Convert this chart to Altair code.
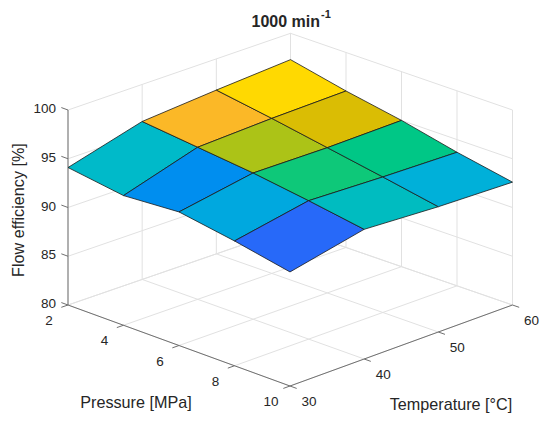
import altair as alt
import pandas as pd

# ---------------- data ----------------
pressure = [2, 4, 6, 8, 10]            # MPa
temperature = [30, 40, 50, 60]         # °C
# flow efficiency [%], rows = pressure, columns = temperature
efficiency = [
    [94.1, 96.2, 96.8, 97.3],
    [93.3, 95.6, 95.9, 96.05],
    [93.7, 95.0, 94.9, 95.0],
    [92.8, 94.2, 93.9, 93.7],
    [91.7, 93.3, 92.85, 92.6],
]
z_ticks = [80, 85, 90, 95, 100]
title_main = "1000 min"
title_sup = "-1"
x_title = "Pressure [MPa]"
y_title = "Temperature [°C]"
z_title = "Flow efficiency [%]"

P0, P1 = pressure[0], pressure[-1]
T0, T1 = temperature[0], temperature[-1]
Z0, Z1 = z_ticks[0], z_ticks[-1]
zmin = min(min(r) for r in efficiency)
zmax = max(max(r) for r in efficiency)

FONT = "Liberation Sans"
TXT = "#262626"


# ---------------- 3-D projection (vega expressions) ----------------
def proj(s=""):
    p = f"((datum.P{s}-{P0})/{P1 - P0})"
    t = f"((datum.T{s}-{T0})/{T1 - T0})"
    z = f"((datum.Z{s}-{Z0})/{Z1 - Z0})"
    u = f"222*{p}+222.5*{t}"
    v = f"195*{z}-81*{p}+76.7*{t}+4.3*{p}*{t}"
    return u, v


XS = alt.Scale(domain=[-60, 474], nice=False, zero=False)
YS = alt.Scale(domain=[-108, 297], nice=False, zero=False)


def seg_chart(df, color, width):
    u1, v1 = proj("1")
    u2, v2 = proj("2")
    return (
        alt.Chart(df)
        .transform_calculate(u1=u1, v1=v1, u2=u2, v2=v2)
        .mark_rule(color=color, strokeWidth=width)
        .encode(
            x=alt.X("u1:Q", scale=XS, axis=None),
            y=alt.Y("v1:Q", scale=YS, axis=None),
            x2="u2:Q",
            y2="v2:Q",
        )
    )


# ---------------- grid lines on back walls and floor ----------------
grid_rows = []
for z in z_ticks:
    grid_rows.append(dict(P1=P0, T1=T0, Z1=z, P2=P0, T2=T1, Z2=z))
    grid_rows.append(dict(P1=P0, T1=T1, Z1=z, P2=P1, T2=T1, Z2=z))
for t in temperature:
    grid_rows.append(dict(P1=P0, T1=t, Z1=Z0, P2=P0, T2=t, Z2=Z1))
    grid_rows.append(dict(P1=P0, T1=t, Z1=Z0, P2=P1, T2=t, Z2=Z0))
for p in pressure:
    grid_rows.append(dict(P1=p, T1=T1, Z1=Z0, P2=p, T2=T1, Z2=Z1))
    grid_rows.append(dict(P1=p, T1=T0, Z1=Z0, P2=p, T2=T1, Z2=Z0))
grid = seg_chart(pd.DataFrame(grid_rows), "#e1e1e1", 1)

# ---------------- axis lines and ticks ----------------
axis_rows = [
    dict(P1=P0, T1=T0, Z1=Z0, P2=P0, T2=T0, Z2=Z1),
    dict(P1=P0, T1=T0, Z1=Z0, P2=P1, T2=T0, Z2=Z0),
    dict(P1=P1, T1=T0, Z1=Z0, P2=P1, T2=T1, Z2=Z0),
]
dp = 0.03 * (P1 - P0)
dt = 0.03 * (T1 - T0)
for z in z_ticks:
    axis_rows.append(dict(P1=P0, T1=T0, Z1=z, P2=P0 - dp, T2=T0, Z2=z))
for p in pressure:
    axis_rows.append(dict(P1=p, T1=T0, Z1=Z0, P2=p, T2=T0 - dt, Z2=Z0))
for t in temperature:
    axis_rows.append(dict(P1=P1, T1=t, Z1=Z0, P2=P1 + dp, T2=t, Z2=Z0))
axes = seg_chart(pd.DataFrame(axis_rows), "#707070", 1)

# ---------------- surface patches ----------------
patch_rows = []
for i in range(len(pressure) - 1):
    for j in range(len(temperature) - 1):
        corners = [(i, j), (i + 1, j), (i + 1, j + 1), (i, j + 1), (i, j)]
        for k, (a, b) in enumerate(corners):
            patch_rows.append(
                dict(
                    patch=f"{i}-{j}",
                    k=k,
                    P=pressure[a],
                    T=temperature[b],
                    Z=efficiency[a][b],
                    c=efficiency[i][j],
                )
            )
stops = [0.0, 0.185, 0.28, 0.35, 0.39, 0.43, 0.58, 0.69, 0.745, 0.795, 0.907, 1.0]
cols = ["#3d26a8", "#2c64fa", "#008cf0", "#00a6e0", "#00afda", "#00bac8",
        "#00c882", "#a6c41a", "#d6be00", "#fbb52a", "#ffd800", "#f9fb0e"]
cdomain = [zmin + s * (zmax - zmin) for s in stops]

u, v = proj("")
surface = (
    alt.Chart(pd.DataFrame(patch_rows))
    .transform_calculate(u=u, v=v)
    .mark_line(filled=True, stroke="#1a1a1a", strokeWidth=0.8, strokeJoin="round")
    .encode(
        x=alt.X("u:Q", scale=XS, axis=None),
        y=alt.Y("v:Q", scale=YS, axis=None),
        detail="patch:N",
        order="k:Q",
        color=alt.Color(
            "c:Q",
            scale=alt.Scale(domain=cdomain, range=cols, interpolate="rgb"),
            legend=None,
        ),
    )
)

# ---------------- tick labels ----------------
def label_chart(df, align, dx, dy):
    return (
        alt.Chart(df)
        .transform_calculate(u=u, v=v)
        .mark_text(font=FONT, fontSize=13.5, color=TXT, align=align,
                   baseline="middle", dx=dx, dy=dy)
        .encode(
            x=alt.X("u:Q", scale=XS, axis=None),
            y=alt.Y("v:Q", scale=YS, axis=None),
            text="lab:N",
        )
    )


zl = pd.DataFrame(dict(P=P0, T=T0, Z=z_ticks, lab=[str(z) for z in z_ticks]))
pl = pd.DataFrame(dict(P=pressure, T=T0, Z=Z0, lab=[str(p) for p in pressure]))
tl = pd.DataFrame(dict(P=P1, T=temperature, Z=Z0, lab=[str(t) for t in temperature]))

z_labels = label_chart(zl, "right", -12, -1)
p_labels = label_chart(pl, "center", -19, 16)
t_labels = label_chart(tl, "center", 19, 16)

# ---------------- titles ----------------
def text_at(s, x, y, size, weight="normal", align="center", angle=0):
    return (
        alt.Chart(pd.DataFrame({"s": [s]}))
        .mark_text(font=FONT, fontSize=size, fontWeight=weight, color=TXT,
                   align=align, baseline="middle", angle=angle)
        .encode(x=alt.value(x), y=alt.value(y), text="s:N")
    )


titles = (
    text_at(title_main, 312, 14, 16, "bold", "right")
    + text_at(title_sup, 313, 7, 11, "bold", "left")
    + text_at(x_title, 128, 395, 16.2)
    + text_at(y_title, 443, 397, 16.2)
    + text_at(z_title, 11, 202, 16.2, angle=270)
)

chart = (
    alt.layer(grid, axes, surface, z_labels, p_labels, t_labels, titles)
    .properties(width=534, height=405, padding=0, autosize="none", background="white")
    .configure_view(stroke=None)
)

chart.save("out.html", embed_options={"renderer": "svg", "actions": False})
